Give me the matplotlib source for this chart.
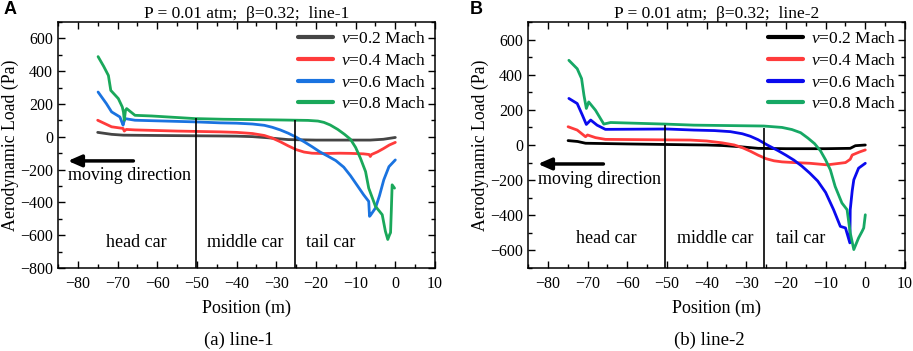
import matplotlib
matplotlib.use("Agg")
import matplotlib.pyplot as plt
from matplotlib.ticker import MultipleLocator

plt.rcParams['font.family'] = ['Liberation Serif', 'DejaVu Serif']
plt.rcParams['mathtext.fontset'] = 'custom'
plt.rcParams['mathtext.rm'] = 'Liberation Serif'
plt.rcParams['mathtext.it'] = 'Liberation Serif:italic'

# ---------------- data : panel A (line-1) ----------------
A_x02 = [-75, -71.5, -68.6, -60, -44, -40, -36, -32, -29, -27, -20, -10, -6.3, -3, 0]
A_y02 = [27, 15, 10, 8, 5, 4, 1, -6, -13, -17, -20, -20, -20, -15, -4]

A_x04 = [-75, -71.5, -68.6, -68.3, -67.8, -65.6, -55, -44, -40, -36, -33, -31, -29,
         -27, -25, -23, -21, -18, -14, -11.3, -8, -6.6, -6.3, -6.0, -4.5, -3.0, -1.5, 0]
A_y04 = [101, 61, 51, 35, 45, 42, 35, 30, 27, 20, 8, -8, -30,
         -55, -78, -93, -100, -102, -100, -101, -104, -108, -120, -108, -92, -72, -50, -34]

A_x06 = [-74.9, -72.8, -71.5, -69.4, -68.6, -68.4, -68.1, -65.6, -50.5, -44.1, -40, -36,
         -33, -31, -29, -27, -25, -23, -21, -19, -17, -15, -13, -11.3, -9.5, -8.0, -6.7,
         -6.5, -6.3, -5.0, -4.0, -2.9, -1.6, 0]
A_y06 = [273, 202, 152, 121, 71, 90, 111, 101, 91, 85, 83, 78,
         70, 58, 42, 22, -2, -30, -60, -92, -118, -145, -185, -237, -300, -353, -394,
         -485, -480, -434, -360, -262, -182, -141]

A_x08 = [-74.9, -73.5, -72.3, -71.7, -69.8, -68.8, -68.5, -68.3, -68.0, -67.7, -65.6,
         -61.4, -50.5, -43.4, -30, -22, -19.5, -18, -16.4, -14.5, -12.8, -11.3, -10, -8.8,
         -7.5, -6.7, -5.0, -3.3, -2.5, -1.9, -1.5, -1.2, -1.0, -0.8, -0.2]
A_y08 = [489, 430, 374, 283, 233, 182, 150, 101, 160, 172, 131,
         127, 111, 107, 103, 100, 96, 88, 72, 45, 15, -15, -65, -130,
         -212, -313, -424, -475, -576, -626, -600, -584, -444, -293, -313]

# ---------------- data : panel B (line-2) ----------------
B_x02 = [-74.9, -72.5, -70.5, -60, -44, -40, -36, -32, -29, -27, -20, -10, -3.8, -2.5, 0]
B_y02 = [25, 20, 10, 6, 1, 0, -3, -9, -15, -19, -21, -21, -19, -4, 0]

B_x04 = [-74.9, -72.6, -70.5, -70, -68, -65.5, -44.1, -40, -36, -33, -31, -29, -27, -25,
         -23, -21, -18, -14, -9.6, -5, -4.6, -3.8, -3.3, -1.5, 0]
B_y04 = [104, 85, 47, 57, 42, 32, 28, 23, 12, 0, -15, -35, -58, -78,
         -90, -96, -100, -104, -113, -100, -94, -81, -57, -40, -28]

B_x06 = [-74.7, -72.6, -71.3, -70.3, -69.2, -67.6, -65.5, -50, -43.2, -38, -34, -31,
         -29, -27, -24.7, -22, -20, -18, -16, -14, -12, -10, -8.0, -6.3, -5.0, -3.9, -3.8,
         -3.3, -2.9, -1.7, 0]
B_y06 = [265, 236, 170, 117, 142, 113, 89, 91, 85, 82, 76, 64,
         50, 30, 0, -32, -58, -86, -120, -160, -205, -270, -368, -463, -472, -557, -368,
         -260, -198, -132, -104]

B_x08 = [-74.7, -72.6, -71.5, -70.9, -70.3, -69.7, -68, -65.9, -64.2, -50.4, -43.2,
         -25.6, -21, -18.5, -16.3, -14.5, -12.8, -11.3, -10.0, -8.8, -7.6, -5.9, -4.6,
         -3.8, -2.9, -1.7, -0.8, -0.4, 0]
B_y08 = [482, 434, 378, 283, 208, 245, 198, 119, 128, 119, 113,
         108, 100, 88, 70, 40, 8, -33, -85, -142, -236, -330, -368,
         -500, -595, -529, -491, -472, -397]

labels = [r'$\mathit{v}$=0.2 Mach', r'$\mathit{v}$=0.4 Mach',
          r'$\mathit{v}$=0.6 Mach', r'$\mathit{v}$=0.8 Mach']
colors_A = ['#454545', '#ff3b3b', '#1a73e0', '#1aa85a']
colors_B = ['#000000', '#ff3b3b', '#0a0aee', '#16a865']

A_bounds = [-50.2, -25.3]
A_bound_tops = [113, 100]
B_bounds = [-50.4, -25.6]
B_bound_tops = [113, 96]

fig = plt.figure(figsize=(9.13, 3.51), dpi=100)
W, H = 913, 351


def make_ax(left_px, right_px, top_px, bottom_px):
    return fig.add_axes([left_px / W, 1 - bottom_px / H,
                         (right_px - left_px) / W, (bottom_px - top_px) / H])


axA = make_ax(58, 435, 22, 268)
axB = make_ax(528, 905, 22, 268)

panels = [
    (axA, [(A_x02, A_y02), (A_x04, A_y04), (A_x06, A_y06), (A_x08, A_y08)], colors_A,
     (-800, 700), A_bounds, A_bound_tops, 'line-1', '(a) line-1',
     -147, -233, -645),
    (axB, [(B_x02, B_y02), (B_x04, B_y04), (B_x06, B_y06), (B_x08, B_y08)], colors_B,
     (-700, 700), B_bounds, B_bound_tops, 'line-2', '(b) line-2',
     -108, -198, -533),
]

for (ax, series, cols, ylim, bounds, tops, lname, cap,
     arr_y, md_y, car_y) in panels:
    for (x, y), c, lab in zip(series, cols, labels):
        ax.plot(x, y, color=c, lw=2.0, label=lab, solid_capstyle='round',
                solid_joinstyle='round')
    ax.vlines(bounds, ylim[0], tops, color='black', lw=1.2)
    ax.set_xlim(-85, 10)
    ax.set_ylim(*ylim)
    ax.xaxis.set_major_locator(MultipleLocator(10))
    ax.xaxis.set_minor_locator(MultipleLocator(5))
    ax.yaxis.set_major_locator(MultipleLocator(200))
    ax.yaxis.set_minor_locator(MultipleLocator(100))
    ax.tick_params(which='both', direction='in', top=True, right=True,
                   labelsize=11.5, width=1.0)
    ax.tick_params(which='major', length=5)
    ax.tick_params(which='minor', length=3)
    ax.tick_params(axis='x', pad=6)
    for sp in ax.spines.values():
        sp.set_linewidth(1.1)
    ax.set_xlabel('Position (m)', fontsize=13, labelpad=5)
    ax.set_ylabel('Aerodynamic Load (Pa)', fontsize=12.8, labelpad=1)
    ax.set_title('P = 0.01 atm;  \u03b2=0.32;  ' + lname, fontsize=12.5, pad=3)
    leg = ax.legend(loc='upper right', frameon=False, fontsize=12.5,
                    handlelength=2.0, handletextpad=0.5, labelspacing=0.33,
                    borderaxespad=0.3, borderpad=0.2)
    for h in leg.get_lines():
        h.set_linewidth(3.0)
    ax.annotate('', xy=(-82.5, arr_y), xytext=(-66, arr_y),
                arrowprops=dict(arrowstyle='-|>,head_length=0.8,head_width=0.35',
                                lw=2.5, color='black', shrinkA=0, shrinkB=0))
    ax.text(-67, md_y, 'moving direction', ha='center', va='center', fontsize=13)
    ax.text(-65.3, car_y, 'head car', ha='center', va='center', fontsize=13)
    ax.text(-37.8, car_y, 'middle car', ha='center', va='center', fontsize=13)
    ax.text(-16.3, car_y, 'tail car', ha='center', va='center', fontsize=13)
    pos = ax.get_position()
    fig.text((pos.x0 + pos.x1) / 2 - 0.008, 1 - 340 / H, cap, ha='center',
             va='center', fontsize=13.5)

fig.text(10 / W, 1 - 10 / H, 'A', ha='center', va='center', fontsize=13,
         fontweight='bold', family='Liberation Sans')
fig.text(476 / W, 1 - 10 / H, 'B', ha='center', va='center', fontsize=13,
         fontweight='bold', family='Liberation Sans')

fig.savefig('out.png', dpi=100)
